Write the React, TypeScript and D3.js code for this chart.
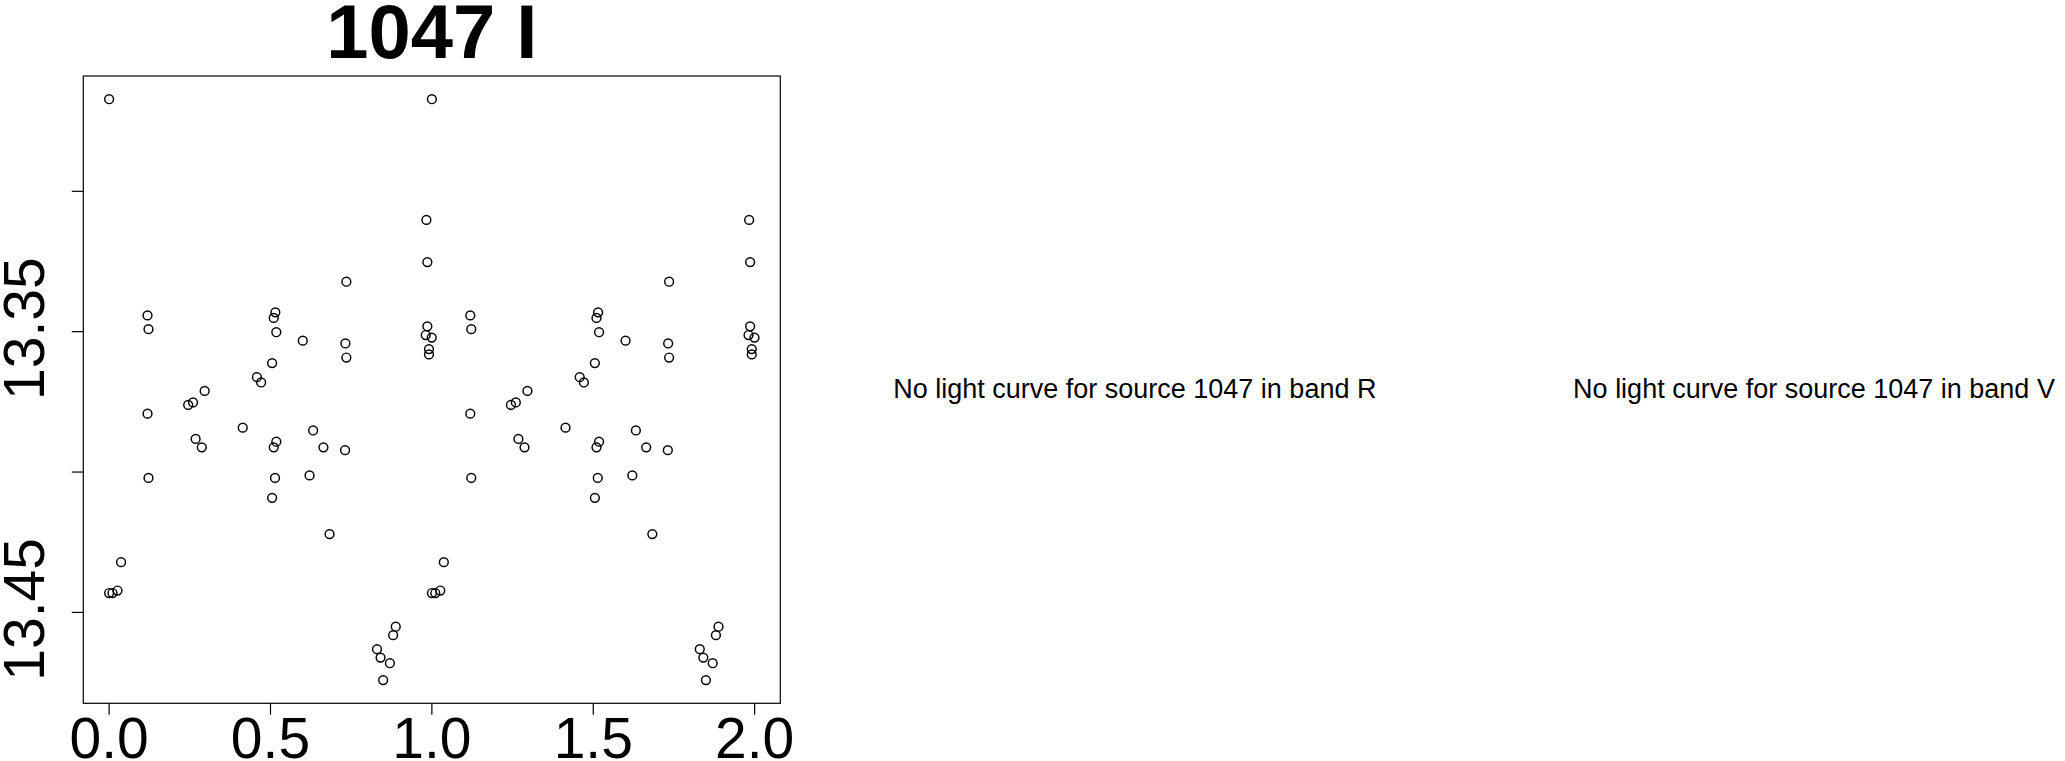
import React from "react";
import * as d3 from "d3";

// ---- data (phase-folded light curve, band I, source 1047) ----
const phases: number[] = [
  0.0, 0.0, 0.0105, 0.026, 0.037,
  0.119, 0.122, 0.119, 0.122,
  0.245, 0.26, 0.296, 0.268, 0.287,
  0.414, 0.458, 0.471,
  0.505, 0.515, 0.51, 0.518, 0.518, 0.51, 0.514, 0.505,
  0.6, 0.632, 0.664, 0.621, 0.683,
  0.735, 0.732, 0.735, 0.731,
  0.83, 0.841, 0.849, 0.87, 0.88, 0.888,
  0.983, 0.986, 0.986, 0.981, 0.9995, 0.991, 0.991,
];
const magnitudes: number[] = [
  13.2672, 13.4431, 13.4431, 13.4422, 13.4321,
  13.3442, 13.3491, 13.3792, 13.4021,
  13.3761, 13.3752, 13.3711, 13.3882, 13.3912,
  13.3842, 13.3662, 13.3681,
  13.3612, 13.3431, 13.3451, 13.3502, 13.3892, 13.3912, 13.4021, 13.4092,
  13.3532, 13.3852, 13.3912, 13.4012, 13.4221,
  13.3322, 13.3542, 13.3592, 13.3922,
  13.4631, 13.4661, 13.4741, 13.4681, 13.4581, 13.4551,
  13.3102, 13.3252, 13.3481, 13.3512, 13.3521, 13.3562, 13.3581,
];
const cycles: number[] = [0, 1];
const xTickValues: number[] = [0, 0.5, 1.0, 1.5, 2.0];
const xTickLabels: string[] = ["0.0", "0.5", "1.0", "1.5", "2.0"];
const yTickValues: number[] = [13.3, 13.35, 13.4, 13.45];
const yTickLabels: string[] = ["", "13.35", "", "13.45"];
const title = "1047 I";
const sourceId = "1047";
const missingBands: string[] = ["R", "V"];

const W = 2065;
const H = 761;
const plot = { left: 83.3, right: 780.3, top: 76, bottom: 703.3 };
const FONT = "'Liberation Sans', Arial, Helvetica, sans-serif";

export default function App() {
  const points = cycles.flatMap((c) =>
    phases.map((p, i) => ({ x: p + c, y: magnitudes[i] }))
  );
  const xExt = d3.extent(points, (d) => d.x) as [number, number];
  const yExt = d3.extent(points, (d) => d.y) as [number, number];
  const xPad = (xExt[1] - xExt[0]) * 0.04;
  const yPad = (yExt[1] - yExt[0]) * 0.04;
  const x = d3
    .scaleLinear()
    .domain([xExt[0] - xPad, xExt[1] + xPad])
    .range([plot.left, plot.right]);
  const y = d3
    .scaleLinear()
    .domain([yExt[0] - yPad, yExt[1] + yPad])
    .range([plot.top, plot.bottom]);

  const textX = [1134.8, 1814];

  return (
    <svg
      width={W}
      height={H}
      style={{ position: "absolute", left: 0, top: 0, display: "block", background: "#fff" }}
      fontFamily={FONT}
    >
      <rect x={0} y={0} width={W} height={H} fill="#fff" />
      <text x={(plot.left + plot.right) / 2} y={57.5} fontSize={76} fontWeight="bold" textAnchor="middle" fill="#000">
        {title}
      </text>
      <rect
        x={plot.left}
        y={plot.top}
        width={plot.right - plot.left}
        height={plot.bottom - plot.top}
        fill="none"
        stroke="#000"
        strokeWidth={1.2}
      />
      {points.map((d, i) => (
        <circle key={i} cx={x(d.x)} cy={y(d.y)} r={4.4} fill="none" stroke="#000" strokeWidth={1.45} />
      ))}
      {xTickValues.map((v, i) => (
        <g key={"xt" + i}>
          <line x1={x(v)} x2={x(v)} y1={plot.bottom} y2={plot.bottom + 11.5} stroke="#000" strokeWidth={1.2} />
          <text x={x(v)} y={757.5} fontSize={57} textAnchor="middle" fill="#000">
            {xTickLabels[i]}
          </text>
        </g>
      ))}
      {yTickValues.map((v, i) => (
        <g key={"yt" + i}>
          <line x1={plot.left - 11.5} x2={plot.left} y1={y(v)} y2={y(v)} stroke="#000" strokeWidth={1.2} />
          {yTickLabels[i] && (
            <text
              transform={`translate(43.5, ${y(v) - 3}) rotate(-90)`}
              fontSize={57}
              textAnchor="middle"
              fill="#000"
            >
              {yTickLabels[i]}
            </text>
          )}
        </g>
      ))}
      {missingBands.map((b, i) => (
        <text key={"nb" + i} x={textX[i]} y={397.5} fontSize={27} textAnchor="middle" fill="#000">
          {`No light curve for source ${sourceId} in band ${b}`}
        </text>
      ))}
    </svg>
  );
}
